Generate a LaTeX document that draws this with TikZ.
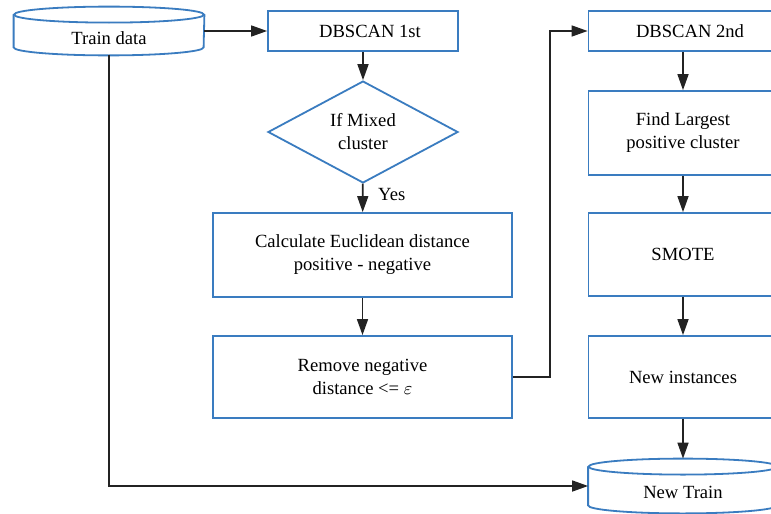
\documentclass[tikz,border=0pt]{standalone}
\usepackage{fontspec}
\setmainfont{Liberation Serif}
\usetikzlibrary{arrows.meta,shapes.geometric}
\definecolor{boxblue}{RGB}{58,124,192}
\definecolor{flowgray}{RGB}{35,35,35}

\begin{document}
\begin{tikzpicture}[x=0.5pt,y=-0.5pt,
    font=\fontsize{9.3}{11.5}\selectfont,
    box/.style={draw=boxblue,line width=0.9pt,fill=white,align=center,inner sep=0pt},
    decision/.style={diamond,draw=boxblue,line width=0.9pt,fill=white,align=center,inner sep=0pt},
    twoline/.style={execute at begin node={\rule{0pt}{9.6pt}}},
    store/.style={rectangle,inner sep=0pt},
    cyl/.style={draw=boxblue,line width=0.9pt,fill=white},
    flow/.style={draw=flowgray,line width=0.8pt,-{Triangle[length=8pt,width=5.5pt]}}]
% Page frame
        \clip (0,0) rectangle (771,514);
        \fill[white] (0,0) rectangle (771,514);
% Left column
        \node[store, minimum width=95pt, minimum height=24pt] (train) at (109,31) {};
        \node[box, minimum width=95pt, minimum height=20pt] (dbscanA) at (363,31) {\hspace{7pt}DBSCAN 1st};
        \node[decision, twoline, minimum width=95pt, minimum height=42pt] (mixed) at (363,132) {If Mixed\\cluster};
        \node[box, twoline, minimum width=149.5pt, minimum height=42pt] (euclid) at (362.5,255)
          {Calculate Euclidean distance\\positive - negative};
        \node[box, twoline, minimum width=149.5pt, minimum height=41pt] (remove) at (362.5,377)
          {Remove negative\\distance <= $\varepsilon$};
% Right column
        \node[box, minimum width=94.5pt, minimum height=20pt] (dbscanB) at (683,31) {\hspace{7pt}DBSCAN 2nd};
        \node[box, twoline, minimum width=94.5pt, minimum height=42pt] (largest) at (683,133)
          {Find Largest\\positive cluster};
        \node[box, minimum width=94.5pt, minimum height=41.5pt] (smote) at (683,254.5) {SMOTE};
        \node[box, minimum width=94.5pt, minimum height=41pt] (newinst) at (683,377) {New instances};
        \node[store, minimum width=94.5pt, minimum height=27pt] (newtrain) at (683,486) {};
        \coordinate (bend) at (550,377);
% Draw the data stores
        \foreach \n/\r in {train/47.5pt, newtrain/47.25pt} {
          \draw[cyl] ([yshift=-4pt]\n.north west) -- ([yshift=4pt]\n.south west)
            arc[start angle=180, end angle=360, x radius=\r, y radius=4pt]
            -- ([yshift=-4pt]\n.north east);
          \draw[cyl] ([yshift=-4pt]\n.north) ellipse[x radius=\r, y radius=4pt];
        }
        \node (trainlabel) at ([yshift=-3.5pt]train.center) {Train data};
        \node (newtrainlabel) at ([yshift=-3pt]newtrain.center) {New Train};
% Draw connectors
        \draw[flow] (train) -- (dbscanA);
        \draw[flow] (dbscanA) -- (mixed);
        \draw[flow] (mixed) -- node[right=4pt, pos=0.38] {Yes} (euclid);
        \draw[flow] (euclid) -- (remove);
        \draw[flow] (remove.east) -- (bend) |- (dbscanB.west);
        \draw[flow] (dbscanB) -- (largest);
        \draw[flow] (largest) -- (smote);
        \draw[flow] (smote) -- (newinst);
        \draw[flow] (newinst) -- (newtrain);
        \draw[flow] (train.south) |- (newtrain.west);
\end{tikzpicture}
\end{document}
